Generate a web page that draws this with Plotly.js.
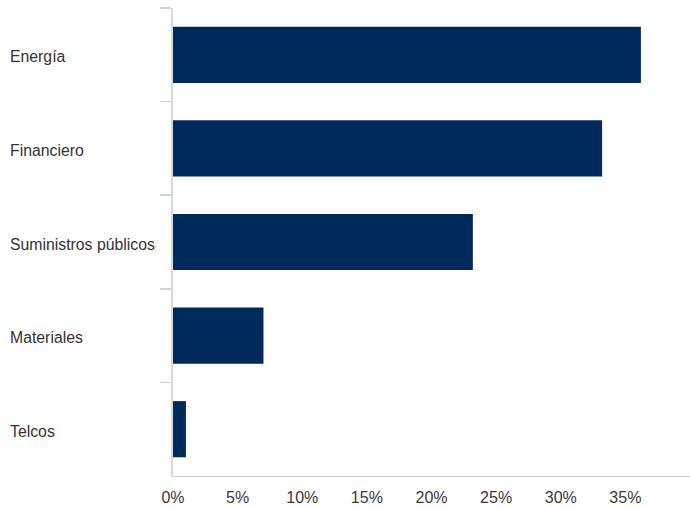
<!DOCTYPE html>
<html><head><meta charset="utf-8">
<script src="https://cdn.plot.ly/plotly-3.0.1.min.js"></script>
<style>html,body{margin:0;padding:0;background:#fff}#chart{width:690px;height:507px}</style>
</head><body><div id="chart"></div>
<script>
const categories = ["Energía", "Financiero", "Suministros públicos", "Materiales", "Telcos"];
const values = [0.362, 0.332, 0.232, 0.070, 0.010];
const xTickVals = [0, 0.05, 0.10, 0.15, 0.20, 0.25, 0.30, 0.35];
const xTickText = ["0%", "5%", "10%", "15%", "20%", "25%", "30%", "35%"];

const trace = {
  type: "bar", orientation: "h",
  x: values, y: categories,
  marker: {color: "#002a5c"},
  hoverinfo: "skip"
};
const annotations = categories.map(c => ({
  text: c, xref: "paper", yref: "y", x: -165/517, y: c,
  xanchor: "left", yanchor: "middle", showarrow: false, yshift: -2,
  font: {family: "Liberation Sans, Arial, sans-serif", size: 15.8, color: "#333333"}
}));
const layout = {
  width: 690, height: 507,
  margin: {l: 173, r: 0, t: 8, b: 31},
  paper_bgcolor: "#ffffff", plot_bgcolor: "#ffffff",
  bargap: 0.4,
  showlegend: false,
  font: {family: "Liberation Sans, Arial, sans-serif", size: 16, color: "#3a3a3a"},
  xaxis: {
    range: [0, 0.40], tickvals: xTickVals, ticktext: xTickText,
    showgrid: false, zeroline: false, showline: true, linecolor: "#d0d0d0", linewidth: 1,
    ticks: "", ticklabelstandoff: 7, fixedrange: true
  },
  yaxis: {
    type: "category", autorange: "reversed",
    showticklabels: false, showgrid: false, zeroline: false,
    showline: true, linecolor: "#d9d9d9", linewidth: 2,
    ticks: "outside", tickson: "boundaries", ticklen: 11, tickwidth: 1.5, tickcolor: "#c8d4ea",
    fixedrange: true
  },
  annotations: annotations
};
Plotly.newPlot("chart", [trace], layout, {displayModeBar: false, staticPlot: true});
</script>
</body></html>
